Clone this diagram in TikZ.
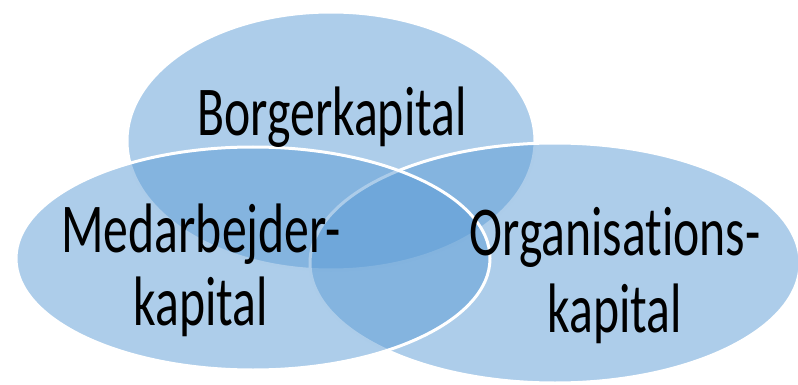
\documentclass[tikz,border=0pt]{standalone}
\usepackage{fontspec}
\newfontfamily\cfont[FakeStretch=0.71,Ligatures={NoCommon}]{Carlito}
\definecolor{vblue}{HTML}{5B9BD5}
\begin{document}
\begin{tikzpicture}[x=1pt,y=-1pt,
  venn/.style={fill=vblue,fill opacity=0.5,draw=white,draw opacity=1,line width=3pt},
  lbl/.style={align=center,inner sep=0pt,text=black,anchor=base}]
\useasboundingbox (0,0) rectangle (798,385);
\clip (0,0) rectangle (798,385);
\path[venn] (331,141) ellipse [x radius=204pt, y radius=129pt];
\path[venn] (555,263) ellipse [x radius=245pt, y radius=120pt];
\path[venn] (253,258.5) ellipse [x radius=237pt, y radius=111.5pt];
\node[lbl,font=\cfont\fontsize{70}{73}\selectfont] (borger) at (332,136) {Borgerkapital};
\node[lbl,font=\cfont\fontsize{70}{73}\selectfont] (medarb) at (201,325) {Medarbejder-\\kapital};
\node[lbl,font=\cfont\fontsize{70}{77}\selectfont] (organ) at (615,332) {Organisations-\\kapital};
\end{tikzpicture}
\end{document}
